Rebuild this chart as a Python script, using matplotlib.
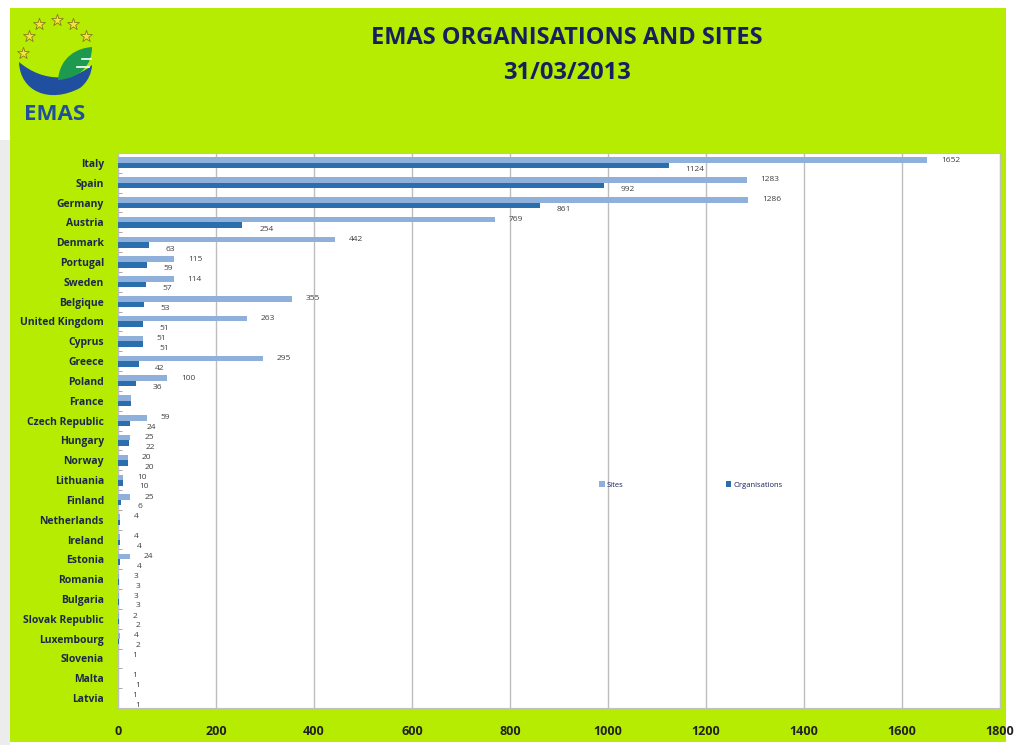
import numpy as np
import matplotlib
matplotlib.use("Agg")
import matplotlib.pyplot as plt
from matplotlib.path import Path
from matplotlib.patches import PathPatch, Rectangle

# data (top to bottom)
countries = ["Italy", "Spain", "Germany", "Austria", "Denmark", "Portugal", "Sweden",
             "Belgique", "United Kingdom", "Cyprus", "Greece", "Poland", "France",
             "Czech Republic", "Hungary", "Norway", "Lithuania", "Finland", "Netherlands",
             "Ireland", "Estonia", "Romania", "Bulgaria", "Slovak Republic", "Luxembourg",
             "Slovenia", "Malta", "Latvia"]
sites = [1652, 1283, 1286, 769, 442, 115, 114, 355, 263, 51, 295, 100, 26,
         59, 25, 20, 10, 25, 4, 4, 24, 3, 3, 2, 4, 1, 1, 1]
organisations = [1124, 992, 861, 254, 63, 59, 57, 53, 51, 51, 42, 36, 26,
                  24, 22, 20, 10, 6, 4, 4, 4, 3, 3, 2, 2, 1, 1, 1]
# which value labels are shown on the original
show_site_label = [c not in ("France",) for c in countries]
show_org_label = [c not in ("France", "Netherlands", "Slovenia") for c in countries]
xticks = [0, 200, 400, 600, 800, 1000, 1200, 1400, 1600, 1800]

GREEN = "#b6ec02"
NAVY = "#17205f"
LIGHT = "#8fb0db"
DARK = "#2a6ead"

plt.rcParams['font.family'] = ['Open Sans', 'DejaVu Sans']

fig = plt.figure(figsize=(10.14, 7.45), dpi=100)
fig.patch.set_facecolor("white")

# slide background (pixel coordinates)
bg = fig.add_axes([0, 0, 1, 1], zorder=-5)
bg.set_xlim(0, 1014)
bg.set_ylim(745, 0)
bg.axis("off")
bg.add_patch(Rectangle((0, 140), 10, 605, facecolor="#ececec", edgecolor="none"))
bg.add_patch(Rectangle((10, 8), 996, 734, facecolor=GREEN, edgecolor="none"))

# title
bg.text(567, 38, "EMAS ORGANISATIONS AND SITES", ha="center", va="center",
        fontsize=17, fontweight="bold", color=NAVY)
bg.text(567, 73, "31/03/2013", ha="center", va="center",
        fontsize=17, fontweight="bold", color=NAVY)

# logo
star_x = [23, 29, 39, 57, 73, 86]
star_y = [53, 36, 24, 20, 24, 36]
bg.scatter(star_x, star_y, marker="*", s=80, facecolor="#f6e43c", edgecolor="#8a7a20",
           linewidth=0.6)
blue = Path([(19, 62), (20, 92), (50, 104), (80, 88),
             (88, 82), (92, 72), (92, 65),
             (75, 80), (45, 84), (19, 62), (19, 62)],
            [Path.MOVETO, Path.CURVE4, Path.CURVE4, Path.CURVE4,
             Path.CURVE4, Path.CURVE4, Path.CURVE4,
             Path.CURVE4, Path.CURVE4, Path.CURVE4, Path.CLOSEPOLY])
bg.add_patch(PathPatch(blue, facecolor="#1f4f9e", edgecolor="none"))
leaf = Path([(58, 80), (60, 56), (78, 48), (92, 47), (92, 64), (82, 78), (58, 80), (58, 80)],
            [Path.MOVETO, Path.CURVE4, Path.CURVE4, Path.CURVE4,
             Path.CURVE4, Path.CURVE4, Path.CURVE4, Path.CLOSEPOLY])
bg.add_patch(PathPatch(leaf, facecolor="#1d9a50", edgecolor="none"))
bg.plot([82, 91], [59, 59], color="white", lw=1.2)
bg.plot([77, 89], [67, 67], color="white", lw=1.2)
bg.text(55, 114, "EMAS", ha="center", va="center", fontsize=16, fontweight="bold",
        color="#1f4f9e")

# chart
ax = fig.add_axes([118 / 1014, 1 - 708 / 745, 882 / 1014, 555 / 745])
ax.set_facecolor("white")
y = np.arange(len(countries))
h = 0.28
ax.barh(y - h / 2, sites, height=h, color=LIGHT, label="Sites", zorder=3)
ax.barh(y + h / 2, organisations, height=h, color=DARK, label="Organisations", zorder=3)

for i in range(len(countries)):
    if show_site_label[i]:
        ax.annotate(str(sites[i]), (sites[i], y[i] - h / 2), xytext=(10, 0),
                    textcoords="offset points", fontsize=6, color="#404040",
                    va="center", ha="left")
    if show_org_label[i]:
        ax.annotate(str(organisations[i]), (organisations[i], y[i] + h / 2), xytext=(12, -3),
                    textcoords="offset points", fontsize=6, color="#404040",
                    va="center", ha="left")

ax.set_xlim(0, 1800)
ax.set_ylim(len(countries) - 0.5, -0.5)
ax.set_xticks(xticks)
ax.set_xticklabels([str(t) for t in xticks], fontsize=9, fontweight="bold", color="#222222")
ax.set_yticks(y)
ax.set_yticklabels(countries, fontsize=7.5, fontweight="bold", color="#1c2a4a")
ax.set_yticks(np.arange(len(countries) + 1) - 0.5, minor=True)
ax.tick_params(axis="y", which="major", length=0, pad=10)
ax.tick_params(axis="y", which="minor", length=3, direction="in", color="#999999")
ax.tick_params(axis="x", length=0, pad=12)
ax.grid(axis="x", color="#bdbdbd", lw=1, zorder=0)
for s in ax.spines.values():
    s.set_color("#bfbfbf")
    s.set_linewidth(0.8)

ax.legend(loc="center left", bbox_to_anchor=(0.538, 0.402), ncol=2, frameon=False,
          fontsize=5.5, handlelength=0.7, handleheight=0.7, handletextpad=0.2,
          columnspacing=13.5, labelcolor=NAVY)

fig.savefig("out.png", dpi=100)
